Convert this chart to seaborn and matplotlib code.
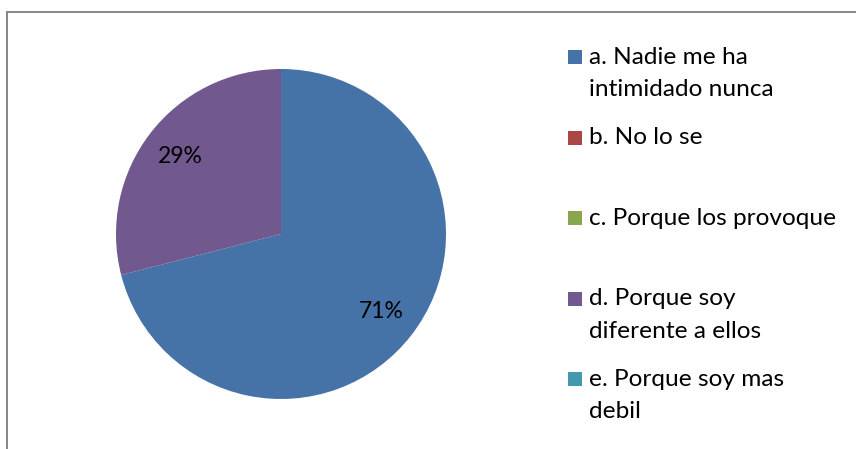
import matplotlib
matplotlib.use("Agg")
import matplotlib.pyplot as plt
from matplotlib.lines import Line2D
from matplotlib.patches import Rectangle
import seaborn as sns

# Survey answers and their shares (percent)
categories = [
    "a. Nadie me ha\nintimidado nunca",
    "b. No lo se",
    "c. Porque los provoque",
    "d. Porque soy\ndiferente a ellos",
    "e. Porque soy mas\ndebil",
]
shares = [71, 0, 0, 29, 0]
colors = ["#4572A7", "#AA4643", "#89A54E", "#71588F", "#4198AF"]

sns.set_theme(style="white")
plt.rcParams["font.family"] = ["Lato", "DejaVu Sans"]

W, H = 856, 449
fig = plt.figure(figsize=(W / 100, H / 100), dpi=100)
fig.patch.set_facecolor("white")

# Pie area: centre (281, 234) px from top-left, radius 165 px
cx, cy, r = 281, 234, 165
ax = fig.add_axes([(cx - r) / W, (H - cy - r) / H, 2 * r / W, 2 * r / H])


def pct_label(p):
    return f"{p:.0f}%" if p > 0.5 else ""


ax.pie(
    shares,
    colors=colors,
    startangle=90,
    counterclock=False,
    autopct=pct_label,
    pctdistance=0.77,
    radius=1.0,
    textprops={"fontsize": 16.5, "color": "black"},
    wedgeprops={"linewidth": 0},
)
ax.set_xlim(-1, 1)
ax.set_ylim(-1, 1)
ax.set_aspect("equal")
ax.axis("off")

# Legend on the right: one swatch per answer, aligned with the first text line
sw_x, txt_x = 568, 589
first_y, pitch, line_h, sw = 57, 80.5, 33, 14
for i, (label, col) in enumerate(zip(categories, colors)):
    y0 = first_y + i * pitch
    fig.add_artist(Rectangle(((sw_x) / W, (H - y0 - sw / 2) / H), sw / W, sw / H,
                             transform=fig.transFigure, facecolor=col,
                             edgecolor="none"))
    for j, line in enumerate(label.split("\n")):
        fig.text(txt_x / W, (H - (y0 + j * line_h)) / H, line,
                 fontsize=17.6, color="black", ha="left", va="center")

# Chart frame (top and left edges visible)
frame = "#868686"
fig.add_artist(Line2D([6.5 / W, 1.0], [(H - 11.5) / H] * 2,
                      transform=fig.transFigure, color=frame, linewidth=1.4))
fig.add_artist(Line2D([6.5 / W] * 2, [0.0, (H - 11.5) / H],
                      transform=fig.transFigure, color=frame, linewidth=1.4))

fig.savefig("out.png", dpi=100, facecolor="white")
